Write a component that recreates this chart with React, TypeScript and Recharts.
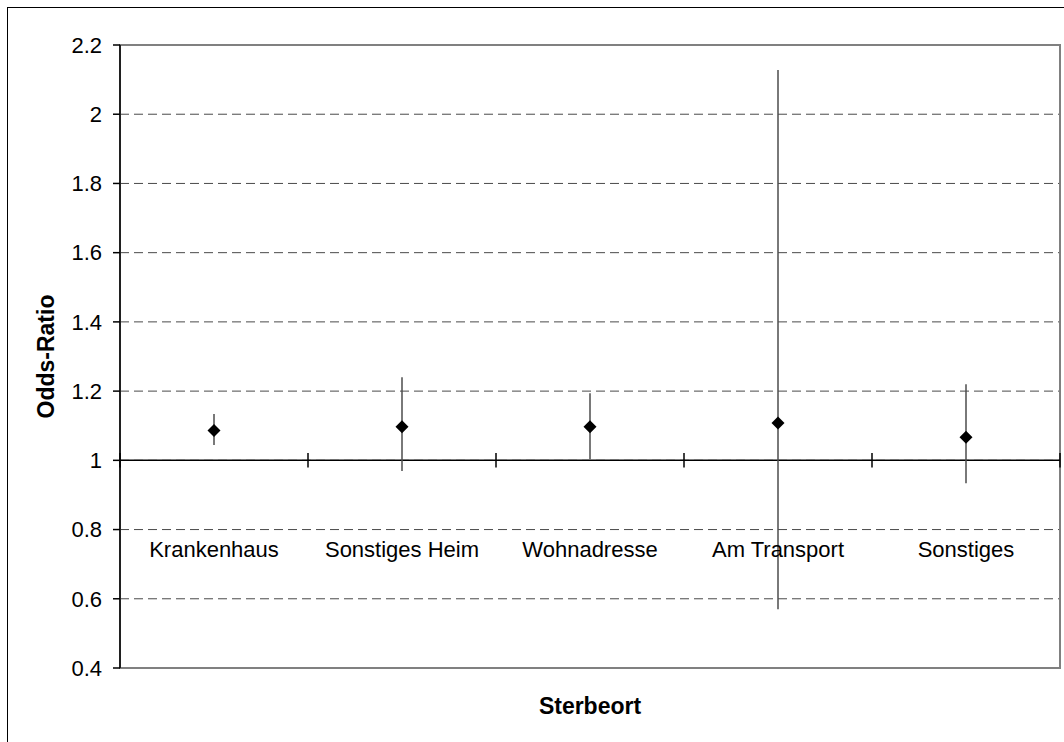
import React from 'react';
import {
  ComposedChart,
  Line,
  XAxis,
  YAxis,
  CartesianGrid,
  ErrorBar,
  ReferenceLine,
  ReferenceArea,
  Label,
} from 'recharts';

const categories = ['Krankenhaus', 'Sonstiges Heim', 'Wohnadresse', 'Am Transport', 'Sonstiges'];
const oddsRatio = [1.086, 1.097, 1.097, 1.108, 1.067];
const lowerCI = [1.044, 0.969, 1.004, 0.57, 0.934];
const upperCI = [1.134, 1.24, 1.194, 2.128, 1.22];
const yTicks = [0.4, 0.6, 0.8, 1, 1.2, 1.4, 1.6, 1.8, 2, 2.2];
const yDomain = [0.4, 2.2];
const axisCross = 1;
const tickHalf = 0.021;

const data = categories.map((c, i) => ({
  cat: c,
  or: oddsRatio[i],
  ci: [oddsRatio[i] - lowerCI[i], upperCI[i] - oddsRatio[i]],
}));

const FONT = '"Liberation Sans", Arial, Helvetica, sans-serif';

const Diamond = (props: any) => {
  const { cx, cy, index } = props;
  if (cx == null || cy == null) return <g key={`d-${index}`} />;
  const r = 6.5;
  return (
    <path
      key={`d-${index}`}
      d={`M${cx},${cy - r} L${cx + r},${cy} L${cx},${cy + r} L${cx - r},${cy} Z`}
      fill="#000"
      stroke="none"
    />
  );
};

const CatTick = (props: any) => {
  const { x, y, payload } = props;
  return (
    <text
      x={x}
      y={y - 119}
      dy="0.355em"
      textAnchor="middle"
      fill="#000"
      fontSize={22}
      fontFamily={FONT}
    >
      {payload.value}
    </text>
  );
};

export default function App() {
  return (
    <div style={{ position: 'absolute', left: 0, top: 0, width: 1064, height: 742, overflow: 'hidden', background: '#fff' }}>
      <div
        style={{
          position: 'absolute',
          left: 7,
          top: 7,
          width: 1057,
          height: 735,
          borderTop: '1px solid #000',
          borderLeft: '1px solid #000',
          boxSizing: 'border-box',
        }}
      />
      <div style={{ position: 'absolute', left: 8, top: 8 }}>
        <ComposedChart
          width={1055}
          height={733}
          data={data}
          margin={{ top: 37, right: 3, bottom: 0, left: 0 }}
          style={{ fontFamily: FONT }}
        >
          <CartesianGrid horizontal vertical={false} stroke="#4a4a4a" strokeDasharray="9 5" />
          <ReferenceArea
            y1={yDomain[0]}
            y2={yDomain[1]}
            fill="none"
            stroke="#808080"
            strokeWidth={2}
            ifOverflow="visible"
          />
          <XAxis
            dataKey="cat"
            type="category"
            scale="band"
            interval={0}
            axisLine={false}
            tickLine={false}
            tickSize={0}
            tickMargin={0}
            height={73}
            tick={<CatTick />}
          >
            <Label
              content={(p: any) => {
                const vb = p.viewBox || { x: 112, y: 660, width: 940, height: 73 };
                return (
                  <text
                    x={vb.x + vb.width / 2}
                    y={vb.y + 38}
                    dy="0.355em"
                    textAnchor="middle"
                    fontWeight="bold"
                    fontSize={23}
                    fill="#000"
                    fontFamily={FONT}
                  >
                    Sterbeort
                  </text>
                );
              }}
            />
          </XAxis>
          <YAxis
            type="number"
            domain={yDomain}
            ticks={yTicks}
            interval={0}
            width={112}
            axisLine={{ stroke: '#000', strokeWidth: 1.5 }}
            tickLine={{ stroke: '#000', strokeWidth: 1.5 }}
            tickSize={7}
            tickMargin={11}
            tick={{ fill: '#000', fontSize: 22, fontFamily: FONT }}
            tickFormatter={(v: number) => String(+v.toFixed(1))}
          >
            <Label
              content={(p: any) => {
                const vb = p.viewBox || { x: 0, y: 37, width: 112, height: 623 };
                const cx = vb.x + 38;
                const cy = vb.y + vb.height / 2;
                return (
                  <text
                    x={cx}
                    y={cy}
                    dy="0.355em"
                    textAnchor="middle"
                    fontWeight="bold"
                    fontSize={23}
                    fill="#000"
                    fontFamily={FONT}
                    transform={`rotate(-90 ${cx} ${cy})`}
                  >
                    Odds-Ratio
                  </text>
                );
              }}
            />
          </YAxis>
          <ReferenceLine y={axisCross} stroke="#000" strokeWidth={1.5} />
          {categories.map((c) => (
            <ReferenceLine
              key={`t-${c}`}
              segment={[
                { x: c, y: axisCross - tickHalf },
                { x: c, y: axisCross + tickHalf },
              ]}
              position="start"
              stroke="#000"
              strokeWidth={1.5}
            />
          ))}
          <ReferenceLine
            segment={[
              { x: categories[categories.length - 1], y: axisCross - tickHalf },
              { x: categories[categories.length - 1], y: axisCross + tickHalf },
            ]}
            position="end"
            stroke="#000"
            strokeWidth={1.5}
          />
          <Line
            dataKey="or"
            stroke="none"
            isAnimationActive={false}
            dot={<Diamond />}
            activeDot={false}
            legendType="none"
          >
            <ErrorBar dataKey="ci" width={0} stroke="#4d4d4d" strokeWidth={1.5} direction="y" />
          </Line>
        </ComposedChart>
      </div>
    </div>
  );
}
